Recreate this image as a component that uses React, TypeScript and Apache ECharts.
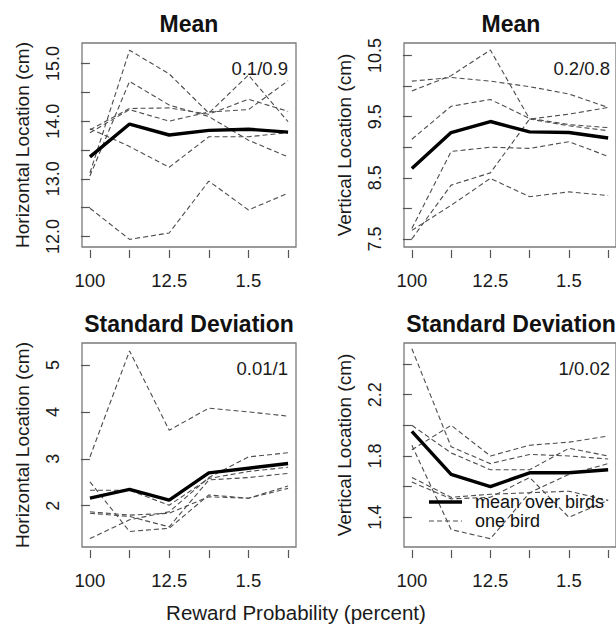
import React, { useEffect, useRef } from "react";
import * as echarts from "echarts";

// Six reward conditions along the x axis; only every other one carries a label.
const conditionPositions = [0, 1, 2, 3, 4, 5];
const labelledPositions = [0, 2, 4];
const conditionLabels = ["100", "12.5", "1.5"];

// Mean horizontal location (cm)
const horizMeanAvg = [13.38, 13.95, 13.76, 13.84, 13.86, 13.81];
const horizMeanBirds = [
  [12.49, 11.95, 12.06, 12.96, 12.46, 12.75],
  [13.1, 15.23, 14.82, 14.14, 14.8, 13.99],
  [13.05, 14.69, 14.28, 14.08, 13.67, 13.38],
  [13.87, 13.56, 13.2, 13.73, 13.73, 13.8],
  [13.85, 14.22, 14.23, 14.12, 14.38, 14.17],
  [13.8, 14.2, 14.0, 14.16, 14.2, 14.7],
];

// Mean vertical location (cm)
const vertMeanAvg = [8.65, 9.24, 9.42, 9.25, 9.24, 9.15];
const vertMeanBirds = [
  [10.08, 10.14, 10.08, 9.99, 9.87, 9.65],
  [9.92, 10.17, 10.59, 9.46, 9.35, 9.27],
  [9.13, 9.67, 9.78, 9.47, 9.37, 9.32],
  [7.67, 8.93, 9.0, 8.98, 9.09, 8.85],
  [7.5, 8.38, 8.58, 9.46, 9.54, 9.65],
  [7.64, 8.05, 8.49, 8.19, 8.27, 8.21],
];

// Standard deviation of horizontal location (cm)
const horizSdAvg = [2.16, 2.35, 2.12, 2.7, 2.8, 2.9];
const horizSdBirds = [
  [3.04, 5.3, 3.61, 4.08, 4.0, 3.91],
  [2.51, 1.45, 1.52, 2.23, 2.16, 2.37],
  [2.33, 2.33, 2.01, 2.58, 2.73, 2.82],
  [1.87, 1.8, 1.84, 2.19, 2.16, 2.42],
  [1.84, 1.77, 1.55, 2.55, 2.6, 2.69],
  [1.3, 1.7, 1.87, 2.6, 3.04, 3.13],
];

// Standard deviation of vertical location (cm)
const vertSdAvg = [1.96, 1.68, 1.6, 1.69, 1.69, 1.71];
const vertSdBirds = [
  [2.5, 1.86, 1.75, 1.81, 1.8, 1.78],
  [1.84, 2.0, 1.8, 1.87, 1.89, 1.93],
  [2.0, 1.82, 1.71, 1.71, 1.85, 1.8],
  [1.66, 1.53, 1.55, 1.56, 1.57, 1.51],
  [1.63, 1.52, 1.53, 1.66, 1.4, 1.51],
  [1.87, 1.32, 1.26, 1.56, 1.68, 1.75],
];

// Y-axis ticks and labelled ticks for each panel
const horizMeanTicks = [12, 12.5, 13, 13.5, 14, 14.5, 15];
const horizMeanTickLabels = [12, 13, 14, 15];
const vertMeanTicks = [7.5, 8, 8.5, 9, 9.5, 10, 10.5];
const vertMeanTickLabels = [7.5, 8.5, 9.5, 10.5];
const horizSdTicks = [2, 3, 4, 5];
const horizSdTickLabels = [2, 3, 4, 5];
const vertSdTicks = [1.4, 1.6, 1.8, 2.0, 2.2, 2.4];
const vertSdTickLabels = [1.4, 1.8, 2.2];

const MEAN_NAME = "mean over birds";
const BIRD_NAME = "one bird";
const FONT = "'Liberation Sans', Arial, Helvetica, sans-serif";

const MEAN_STYLE = { color: "#000", width: 3.4 };
const BIRD_STYLE = { color: "#4d4d4d", width: 1.1, dash: [5, 3] };

const panels = [
  {
    left: 82, top: 43, title: "Mean", note: "0.1/0.9", yName: "Horizontal Location (cm)",
    yMin: 11.817, yMax: 15.356, ticks: horizMeanTicks, tickLabels: horizMeanTickLabels, digits: 1,
    mean: horizMeanAvg, birds: horizMeanBirds,
  },
  {
    left: 404, top: 43, title: "Mean", note: "0.2/0.8", yName: "Vertical Location (cm)",
    yMin: 7.368, yMax: 10.704, ticks: vertMeanTicks, tickLabels: vertMeanTickLabels, digits: 1,
    mean: vertMeanAvg, birds: vertMeanBirds,
  },
  {
    left: 82, top: 343, title: "Standard Deviation", note: "0.01/1", yName: "Horizontal Location (cm)",
    yMin: 1.12, yMax: 5.469, ticks: horizSdTicks, tickLabels: horizSdTickLabels, digits: 0,
    mean: horizSdAvg, birds: horizSdBirds,
  },
  {
    left: 404, top: 343, title: "Standard Deviation", note: "1/0.02", yName: "Vertical Location (cm)",
    yMin: 1.206, yMax: 2.537, ticks: vertSdTicks, tickLabels: vertSdTickLabels, digits: 1,
    mean: vertSdAvg, birds: vertSdBirds,
  },
];

const BOX_W = 214;
const BOX_H = 204;

function toPoints(values: number[]) {
  return conditionPositions.map((x, k) => [x, values[k]]);
}

export default function App() {
  const ref = useRef<HTMLDivElement>(null);

  useEffect(() => {
    if (!ref.current) return;
    const chart = echarts.init(ref.current, null, { renderer: "svg" });

    const grid = panels.map((p) => ({
      left: p.left,
      top: p.top,
      width: BOX_W,
      height: BOX_H,
      show: true,
      borderColor: "#7a7a7a",
      borderWidth: 1.3,
      backgroundColor: "transparent",
    }));

    const xAxis = panels.map((_, i) => ({
      type: "value",
      gridIndex: i,
      min: -0.2,
      max: 5.2,
      offset: 3,
      axisLine: { show: false },
      splitLine: { show: false },
      axisTick: {
        show: true,
        length: 8,
        customValues: conditionPositions,
        lineStyle: { color: "#555", width: 1.2 },
      },
      axisLabel: {
        customValues: labelledPositions,
        formatter: (v: number) => conditionLabels[labelledPositions.indexOf(Math.round(v))] ?? "",
        fontSize: 18.5,
        fontFamily: FONT,
        color: "#1a1a1a",
        margin: 21,
      },
    }));

    const yAxis = panels.map((p, i) => ({
      type: "value",
      gridIndex: i,
      min: p.yMin,
      max: p.yMax,
      name: p.yName,
      nameLocation: "middle",
      nameRotate: 90,
      nameGap: 50,
      nameTextStyle: { fontSize: 19, fontFamily: FONT, color: "#1a1a1a" },
      axisLine: { show: false },
      splitLine: { show: false },
      axisTick: {
        show: true,
        length: 9,
        customValues: p.ticks,
        lineStyle: { color: "#555", width: 1.2 },
      },
      axisLabel: {
        customValues: p.tickLabels,
        rotate: 90,
        formatter: (v: number) => v.toFixed(p.digits),
        fontSize: 18,
        fontFamily: FONT,
        color: "#1a1a1a",
        margin: 20,
      },
    }));

    const series: any[] = [];
    panels.forEach((p, i) => {
      p.birds.forEach((b) => {
        series.push({
          type: "line",
          name: BIRD_NAME,
          xAxisIndex: i,
          yAxisIndex: i,
          data: toPoints(b),
          symbol: "none",
          lineStyle: { color: BIRD_STYLE.color, width: BIRD_STYLE.width, type: BIRD_STYLE.dash },
          z: 2,
        });
      });
      series.push({
        type: "line",
        name: MEAN_NAME,
        xAxisIndex: i,
        yAxisIndex: i,
        data: toPoints(p.mean),
        symbol: "none",
        lineStyle: { color: MEAN_STYLE.color, width: MEAN_STYLE.width },
        z: 3,
      });
    });

    const graphic: any[] = [];
    panels.forEach((p) => {
      graphic.push({
        type: "text",
        x: p.left + BOX_W / 2,
        y: p.top - 19,
        style: {
          text: p.title,
          fontSize: 23,
          fontWeight: "bold",
          fontFamily: FONT,
          fill: "#111",
          textAlign: "center",
          textVerticalAlign: "middle",
        },
      });
      graphic.push({
        type: "text",
        x: p.left + 206,
        y: p.top + 25,
        style: {
          text: p.note,
          fontSize: 18.5,
          fontFamily: FONT,
          fill: "#1a1a1a",
          textAlign: "right",
          textVerticalAlign: "middle",
        },
      });
    });
    graphic.push({
      type: "text",
      x: 296,
      y: 612,
      style: {
        text: "Reward Probability (percent)",
        fontSize: 20.5,
        fontFamily: FONT,
        fill: "#1a1a1a",
        textAlign: "center",
        textVerticalAlign: "middle",
      },
    });

    // Key inside the lower-right panel
    const key = [
      { name: MEAN_NAME, y: 502, stroke: MEAN_STYLE.color, width: MEAN_STYLE.width, dash: null },
      { name: BIRD_NAME, y: 521, stroke: BIRD_STYLE.color, width: BIRD_STYLE.width, dash: BIRD_STYLE.dash },
    ];
    key.forEach((k) => {
      graphic.push({
        type: "line",
        shape: { x1: 429, y1: k.y, x2: 462, y2: k.y },
        style: { stroke: k.stroke, lineWidth: k.width, lineDash: k.dash },
        z: 10,
      });
      graphic.push({
        type: "text",
        x: 475,
        y: k.y,
        style: {
          text: k.name,
          fontSize: 18,
          fontFamily: FONT,
          fill: "#111",
          textAlign: "left",
          textVerticalAlign: "middle",
        },
        z: 10,
      });
    });

    chart.setOption({
      animation: false,
      backgroundColor: "#fff",
      grid,
      xAxis,
      yAxis,
      series,
      graphic,
    });

    return () => chart.dispose();
  }, []);

  return (
    <div
      ref={ref}
      style={{ position: "fixed", left: 0, top: 0, width: 616, height: 625, background: "#fff" }}
    />
  );
}
